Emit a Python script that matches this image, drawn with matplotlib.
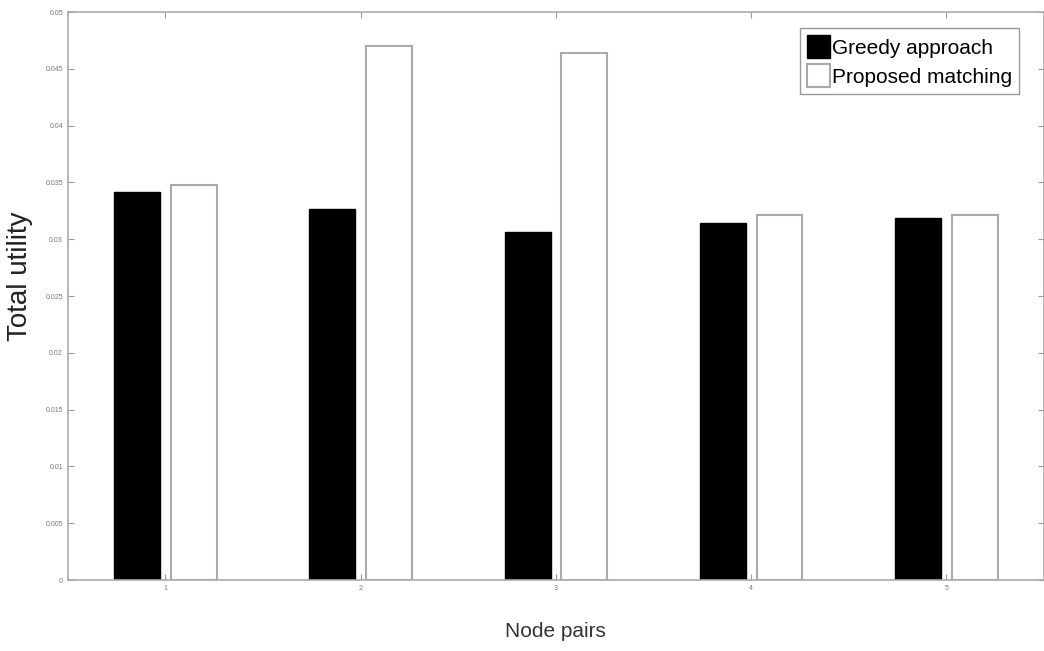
import numpy as np
import matplotlib.pyplot as plt

node_pairs = [1, 2, 3, 4, 5]
greedy = [0.0342, 0.0327, 0.0306, 0.0314, 0.0319]
proposed = [0.0348, 0.0470, 0.0464, 0.0321, 0.0321]
yticks = [0, 0.005, 0.01, 0.015, 0.02, 0.025, 0.03, 0.035, 0.04, 0.045, 0.05]

plt.rcParams['font.family'] = ['Liberation Sans Narrow', 'Liberation Sans', 'DejaVu Sans']

fig = plt.figure(figsize=(10.44, 6.51), dpi=100)
ax = fig.add_axes([0.065, 0.109, 0.935, 0.8725])

x = np.array(node_pairs)
w = 0.235
ax.bar(x - 0.145, greedy, w, color='black', edgecolor='black', label='Greedy approach')
ax.bar(x + 0.145, proposed, w, color='white', edgecolor='#aaaaaa', linewidth=1.5, label='Proposed matching')

ax.set_xlim(0.5, 5.5)
ax.set_ylim(0, 0.05)
ax.set_xticks(node_pairs)
ax.set_yticks(yticks)
ax.set_yticklabels([f'{t:g}' for t in yticks])
ax.tick_params(direction='in', top=True, right=True, labelsize=5, colors='#999999',
               labelcolor='#777777', length=4)
for s in ax.spines.values():
    s.set_color('#aaaaaa')
    s.set_linewidth(1.2)

ax.set_xlabel('Node pairs', fontsize=15, color='#333333', labelpad=22)
ax.set_ylabel('Total utility', fontsize=20, color='#222222')
ax.yaxis.set_label_coords(-0.036, 0.535)

leg = ax.legend(loc='upper right', fontsize=15, fancybox=False, framealpha=1,
                handlelength=1.1, handleheight=1.3, handletextpad=0.1,
                borderpad=0.35, labelspacing=0.3, bbox_to_anchor=(0.9855, 0.99))
leg.get_frame().set_edgecolor('#999999')

fig.savefig('out.png', dpi=100)
